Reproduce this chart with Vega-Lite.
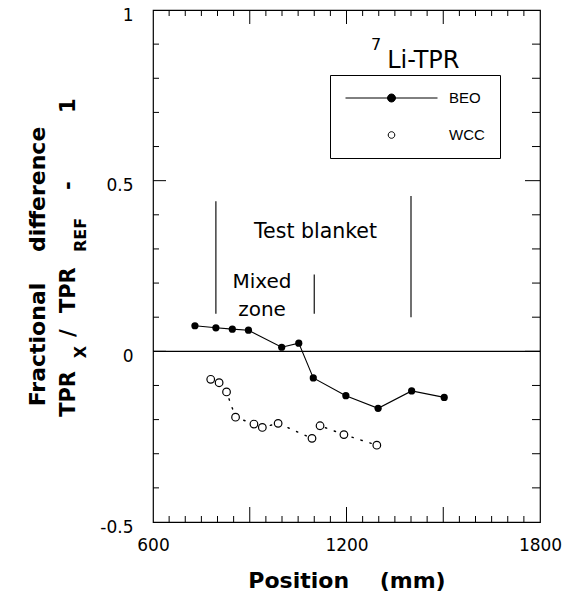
{
  "$schema": "https://vega.github.io/schema/vega-lite/v6.json",
  "width": 387,
  "height": 512,
  "autosize": {"type": "none"},
  "padding": {"left": 153, "top": 10, "right": 39, "bottom": 77},
  "background": "white",
  "config": {
    "view": {"stroke": "black", "strokeWidth": 1.2},
    "axis": {"grid": false, "domain": false},
    "text": {"font": "DejaVu Sans", "color": "black"}
  },
  "datasets": {
    "tpr": [
      {"series": "BEO", "pos": 730, "diff": 0.075},
      {"series": "BEO", "pos": 795, "diff": 0.069},
      {"series": "BEO", "pos": 846, "diff": 0.065},
      {"series": "BEO", "pos": 896, "diff": 0.062},
      {"series": "BEO", "pos": 999, "diff": 0.012},
      {"series": "BEO", "pos": 1052, "diff": 0.024},
      {"series": "BEO", "pos": 1097, "diff": -0.078},
      {"series": "BEO", "pos": 1198, "diff": -0.13},
      {"series": "BEO", "pos": 1298, "diff": -0.167},
      {"series": "BEO", "pos": 1402, "diff": -0.116},
      {"series": "BEO", "pos": 1503, "diff": -0.135},
      {"series": "WCC", "pos": 779, "diff": -0.082},
      {"series": "WCC", "pos": 805, "diff": -0.092},
      {"series": "WCC", "pos": 828, "diff": -0.119},
      {"series": "WCC", "pos": 856, "diff": -0.193},
      {"series": "WCC", "pos": 913, "diff": -0.213},
      {"series": "WCC", "pos": 939, "diff": -0.223},
      {"series": "WCC", "pos": 988, "diff": -0.211},
      {"series": "WCC", "pos": 1093, "diff": -0.255},
      {"series": "WCC", "pos": 1118, "diff": -0.218},
      {"series": "WCC", "pos": 1192, "diff": -0.244},
      {"series": "WCC", "pos": 1294, "diff": -0.275}
    ],
    "boundaries": [
      {"pos": 795, "lo": 0.11, "hi": 0.44},
      {"pos": 1100, "lo": 0.11, "hi": 0.225},
      {"pos": 1400, "lo": 0.1, "hi": 0.455}
    ],
    "xMinorTicks": [
      {"v": 650}, {"v": 700}, {"v": 750}, {"v": 800}, {"v": 850}, {"v": 950}, {"v": 1000},
      {"v": 1050}, {"v": 1100}, {"v": 1150}, {"v": 1250}, {"v": 1300}, {"v": 1350}, {"v": 1400},
      {"v": 1450}, {"v": 1550}, {"v": 1600}, {"v": 1650}, {"v": 1700}, {"v": 1750}
    ],
    "xMajorTicks": [{"v": 900}, {"v": 1200}, {"v": 1500}],
    "yMinorTicks": [
      {"v": -0.4}, {"v": -0.3}, {"v": -0.2}, {"v": -0.1}, {"v": 0.1}, {"v": 0.2},
      {"v": 0.3}, {"v": 0.4}, {"v": 0.6}, {"v": 0.7}, {"v": 0.8}, {"v": 0.9}
    ],
    "yMajorTicks": [{"v": 0}, {"v": 0.5}]
  },
  "resolve": {"axis": {"x": "independent", "y": "independent"}},
  "layer": [
    {
      "data": {"values": [{}]},
      "mark": {"type": "rule", "color": "black", "strokeWidth": 1.3},
      "encoding": {
        "y": {
          "datum": 0, "type": "quantitative",
          "scale": {"domain": [-0.5, 1], "nice": false, "zero": false},
          "axis": {
            "orient": "left", "values": [-0.5, 0, 0.5, 1], "labelExpr": "'' + datum.value",
            "ticks": false, "domain": false, "labelPadding": 20, "labelOffset": 5,
            "labelFont": "DejaVu Sans", "labelFontSize": 17, "labelColor": "black",
            "labelOverlap": false, "labelFlush": false,
            "title": "Fractional\u00a0\u00a0\u00a0\u00a0difference", "titleFont": "DejaVu Sans",
            "titleFontSize": 22, "titleFontWeight": "bold", "titleColor": "black", "titlePadding": 50
          }
        }
      }
    },
    {
      "data": {"name": "boundaries"},
      "mark": {"type": "rule", "color": "#111", "strokeWidth": 1.2},
      "encoding": {
        "x": {
          "field": "pos", "type": "quantitative",
          "scale": {"domain": [600, 1800], "nice": false, "zero": false},
          "axis": {
            "orient": "bottom", "values": [600, 1200, 1800], "format": "d",
            "ticks": false, "domain": false, "labelPadding": 15,
            "labelFont": "DejaVu Sans", "labelFontSize": 17, "labelColor": "black",
            "labelOverlap": false, "labelFlush": false,
            "title": "Position\u00a0\u00a0\u00a0\u00a0(mm)", "titleFont": "DejaVu Sans",
            "titleFontSize": 22, "titleFontWeight": "bold", "titleColor": "black", "titlePadding": 17
          }
        },
        "y": {"field": "lo", "type": "quantitative", "scale": {"domain": [-0.5, 1], "nice": false, "zero": false}, "axis": null},
        "y2": {"field": "hi"}
      }
    },
    {
      "data": {"name": "xMinorTicks"},
      "mark": {"type": "rule", "color": "black", "strokeWidth": 1, "y2Offset": -6},
      "encoding": {
        "x": {"field": "v", "type": "quantitative", "scale": {"domain": [600, 1800], "nice": false, "zero": false}, "axis": null},
        "y": {"datum": -0.5, "type": "quantitative", "scale": {"domain": [-0.5, 1], "nice": false, "zero": false}, "axis": null},
        "y2": {"datum": -0.5}
      }
    },
    {
      "data": {"name": "xMinorTicks"},
      "mark": {"type": "rule", "color": "black", "strokeWidth": 1, "y2Offset": 6},
      "encoding": {
        "x": {"field": "v", "type": "quantitative", "scale": {"domain": [600, 1800], "nice": false, "zero": false}, "axis": null},
        "y": {"datum": 1, "type": "quantitative", "scale": {"domain": [-0.5, 1], "nice": false, "zero": false}, "axis": null},
        "y2": {"datum": 1}
      }
    },
    {
      "data": {"name": "xMajorTicks"},
      "mark": {"type": "rule", "color": "black", "strokeWidth": 1, "y2Offset": -15},
      "encoding": {
        "x": {"field": "v", "type": "quantitative", "scale": {"domain": [600, 1800], "nice": false, "zero": false}, "axis": null},
        "y": {"datum": -0.5, "type": "quantitative", "scale": {"domain": [-0.5, 1], "nice": false, "zero": false}, "axis": null},
        "y2": {"datum": -0.5}
      }
    },
    {
      "data": {"name": "xMajorTicks"},
      "mark": {"type": "rule", "color": "black", "strokeWidth": 1, "y2Offset": 14},
      "encoding": {
        "x": {"field": "v", "type": "quantitative", "scale": {"domain": [600, 1800], "nice": false, "zero": false}, "axis": null},
        "y": {"datum": 1, "type": "quantitative", "scale": {"domain": [-0.5, 1], "nice": false, "zero": false}, "axis": null},
        "y2": {"datum": 1}
      }
    },
    {
      "data": {"name": "yMinorTicks"},
      "mark": {"type": "rule", "color": "black", "strokeWidth": 1, "x2Offset": 6},
      "encoding": {
        "y": {"field": "v", "type": "quantitative", "scale": {"domain": [-0.5, 1], "nice": false, "zero": false}, "axis": null},
        "x": {"datum": 600, "type": "quantitative", "scale": {"domain": [600, 1800], "nice": false, "zero": false}, "axis": null},
        "x2": {"datum": 600}
      }
    },
    {
      "data": {"name": "yMinorTicks"},
      "mark": {"type": "rule", "color": "black", "strokeWidth": 1, "x2Offset": -8},
      "encoding": {
        "y": {"field": "v", "type": "quantitative", "scale": {"domain": [-0.5, 1], "nice": false, "zero": false}, "axis": null},
        "x": {"datum": 1800, "type": "quantitative", "scale": {"domain": [600, 1800], "nice": false, "zero": false}, "axis": null},
        "x2": {"datum": 1800}
      }
    },
    {
      "data": {"name": "yMajorTicks"},
      "mark": {"type": "rule", "color": "black", "strokeWidth": 1, "x2Offset": 13},
      "encoding": {
        "y": {"field": "v", "type": "quantitative", "scale": {"domain": [-0.5, 1], "nice": false, "zero": false}, "axis": null},
        "x": {"datum": 600, "type": "quantitative", "scale": {"domain": [600, 1800], "nice": false, "zero": false}, "axis": null},
        "x2": {"datum": 600}
      }
    },
    {
      "data": {"name": "yMajorTicks"},
      "mark": {"type": "rule", "color": "black", "strokeWidth": 1, "x2Offset": -15},
      "encoding": {
        "y": {"field": "v", "type": "quantitative", "scale": {"domain": [-0.5, 1], "nice": false, "zero": false}, "axis": null},
        "x": {"datum": 1800, "type": "quantitative", "scale": {"domain": [600, 1800], "nice": false, "zero": false}, "axis": null},
        "x2": {"datum": 1800}
      }
    },
    {
      "data": {"values": [{}]},
      "mark": {"type": "text", "text": "Test blanket", "fontSize": 20.5, "align": "center", "baseline": "alphabetic"},
      "encoding": {
        "x": {"datum": 1104, "type": "quantitative", "scale": {"domain": [600, 1800], "nice": false, "zero": false}, "axis": null},
        "y": {"datum": 0.332, "type": "quantitative", "scale": {"domain": [-0.5, 1], "nice": false, "zero": false}, "axis": null}
      }
    },
    {
      "data": {"name": "tpr"},
      "transform": [{"filter": "datum.series === 'BEO'"}],
      "mark": {"type": "line", "color": "black", "strokeWidth": 1.1},
      "encoding": {
        "x": {"field": "pos", "type": "quantitative", "scale": {"domain": [600, 1800], "nice": false, "zero": false}, "axis": null},
        "y": {"field": "diff", "type": "quantitative", "scale": {"domain": [-0.5, 1], "nice": false, "zero": false}, "axis": null}
      }
    },
    {
      "data": {"name": "tpr"},
      "transform": [{"filter": "datum.series === 'BEO'"}],
      "mark": {"type": "circle", "color": "black", "size": 52, "opacity": 1},
      "encoding": {
        "x": {"field": "pos", "type": "quantitative", "scale": {"domain": [600, 1800], "nice": false, "zero": false}, "axis": null},
        "y": {"field": "diff", "type": "quantitative", "scale": {"domain": [-0.5, 1], "nice": false, "zero": false}, "axis": null}
      }
    },
    {
      "data": {"name": "tpr"},
      "transform": [{"filter": "datum.series === 'WCC'"}],
      "mark": {"type": "line", "color": "black", "strokeWidth": 1.4, "strokeDash": [1.4, 8], "strokeCap": "round"},
      "encoding": {
        "x": {"field": "pos", "type": "quantitative", "scale": {"domain": [600, 1800], "nice": false, "zero": false}, "axis": null},
        "y": {"field": "diff", "type": "quantitative", "scale": {"domain": [-0.5, 1], "nice": false, "zero": false}, "axis": null}
      }
    },
    {
      "data": {"name": "tpr"},
      "transform": [{"filter": "datum.series === 'WCC'"}],
      "mark": {"type": "circle", "fill": "white", "stroke": "black", "strokeWidth": 1.2, "size": 58, "opacity": 1},
      "encoding": {
        "x": {"field": "pos", "type": "quantitative", "scale": {"domain": [600, 1800], "nice": false, "zero": false}, "axis": null},
        "y": {"field": "diff", "type": "quantitative", "scale": {"domain": [-0.5, 1], "nice": false, "zero": false}, "axis": null}
      }
    },
    {
      "data": {"name": "tpr"},
      "transform": [{"filter": "false"}],
      "mark": {"type": "point", "filled": true, "strokeWidth": 1, "opacity": 1},
      "encoding": {
        "x": {"field": "pos", "type": "quantitative", "scale": {"domain": [600, 1800], "nice": false, "zero": false}, "axis": null},
        "y": {"field": "diff", "type": "quantitative", "scale": {"domain": [-0.5, 1], "nice": false, "zero": false}, "axis": null},
        "fill": {
          "field": "series", "type": "nominal",
          "scale": {"domain": ["BEO", "WCC"], "range": ["black", "white"]},
          "legend": {
            "orient": "none", "legendX": 177, "legendY": 65, "title": null,
            "strokeColor": "black", "fillColor": "white", "padding": 15, "cornerRadius": 0,
            "clipHeight": 16, "rowPadding": 21, "symbolSize": 8464,
            "symbolStrokeWidth": 1, "labelOffset": 11,
            "labelFont": "Liberation Sans", "labelFontSize": 15, "labelColor": "black"
          }
        },
        "stroke": {
          "field": "series", "type": "nominal",
          "scale": {"domain": ["BEO", "WCC"], "range": ["black", "black"]},
          "legend": {
            "orient": "none", "legendX": 177, "legendY": 65, "title": null,
            "strokeColor": "black", "fillColor": "white", "padding": 15, "cornerRadius": 0,
            "clipHeight": 16, "rowPadding": 21, "symbolSize": 8464,
            "symbolStrokeWidth": 1, "labelOffset": 11,
            "labelFont": "Liberation Sans", "labelFontSize": 15, "labelColor": "black"
          }
        },
        "shape": {
          "field": "series", "type": "nominal",
          "scale": {
            "domain": ["BEO", "WCC"],
            "range": [
              "M-1,0L1,0M-0.087,0A0.087,0.087,0,1,1,0.087,0A0.087,0.087,0,1,1,-0.087,0Z",
              "M-0.072,0A0.072,0.072,0,1,1,0.072,0A0.072,0.072,0,1,1,-0.072,0Z"
            ]
          },
          "legend": {
            "orient": "none", "legendX": 177, "legendY": 65, "title": null,
            "strokeColor": "black", "fillColor": "white", "padding": 15, "cornerRadius": 0,
            "clipHeight": 16, "rowPadding": 21, "symbolSize": 8464,
            "symbolStrokeWidth": 1, "labelOffset": 11,
            "labelFont": "Liberation Sans", "labelFontSize": 15, "labelColor": "black"
          }
        }
      }
    },
    {
      "data": {"values": [{}]},
      "mark": {"type": "text", "text": ["Mixed", "zone"], "fontSize": 20, "lineHeight": 28, "align": "center", "baseline": "alphabetic"},
      "encoding": {
        "x": {"datum": 938, "type": "quantitative", "scale": {"domain": [600, 1800], "nice": false, "zero": false}, "axis": null},
        "y": {"datum": 0.1855, "type": "quantitative", "scale": {"domain": [-0.5, 1], "nice": false, "zero": false}, "axis": null}
      }
    },
    {
      "data": {"values": [{}]},
      "mark": {"type": "text", "text": "7", "fontSize": 16, "align": "left", "baseline": "alphabetic"},
      "encoding": {
        "x": {"datum": 1276, "type": "quantitative", "scale": {"domain": [600, 1800], "nice": false, "zero": false}, "axis": null},
        "y": {"datum": 0.883, "type": "quantitative", "scale": {"domain": [-0.5, 1], "nice": false, "zero": false}, "axis": null}
      }
    },
    {
      "data": {"values": [{}]},
      "mark": {"type": "text", "text": "Li-TPR", "fontSize": 24, "align": "left", "baseline": "alphabetic"},
      "encoding": {
        "x": {"datum": 1326, "type": "quantitative", "scale": {"domain": [600, 1800], "nice": false, "zero": false}, "axis": null},
        "y": {"datum": 0.83, "type": "quantitative", "scale": {"domain": [-0.5, 1], "nice": false, "zero": false}, "axis": null}
      }
    },
    {
      "data": {"values": [{}]},
      "mark": {"type": "text", "text": "TPR", "fontSize": 21, "fontWeight": "bold", "angle": 270, "align": "left", "baseline": "alphabetic"},
      "encoding": {
        "x": {"datum": 358, "type": "quantitative", "scale": {"domain": [600, 1800], "nice": false, "zero": false}, "axis": null},
        "y": {"datum": -0.192, "type": "quantitative", "scale": {"domain": [-0.5, 1], "nice": false, "zero": false}, "axis": null}
      }
    },
    {
      "data": {"values": [{}]},
      "mark": {"type": "text", "text": "X", "fontSize": 16, "fontWeight": "bold", "angle": 270, "align": "left", "baseline": "alphabetic", "dy": 11},
      "encoding": {
        "x": {"datum": 358, "type": "quantitative", "scale": {"domain": [600, 1800], "nice": false, "zero": false}, "axis": null},
        "y": {"datum": -0.02, "type": "quantitative", "scale": {"domain": [-0.5, 1], "nice": false, "zero": false}, "axis": null}
      }
    },
    {
      "data": {"values": [{}]},
      "mark": {"type": "text", "text": "/", "fontSize": 21, "fontWeight": "bold", "angle": 270, "align": "left", "baseline": "alphabetic"},
      "encoding": {
        "x": {"datum": 358, "type": "quantitative", "scale": {"domain": [600, 1800], "nice": false, "zero": false}, "axis": null},
        "y": {"datum": 0.042, "type": "quantitative", "scale": {"domain": [-0.5, 1], "nice": false, "zero": false}, "axis": null}
      }
    },
    {
      "data": {"values": [{}]},
      "mark": {"type": "text", "text": "TPR", "fontSize": 21, "fontWeight": "bold", "angle": 270, "align": "left", "baseline": "alphabetic"},
      "encoding": {
        "x": {"datum": 358, "type": "quantitative", "scale": {"domain": [600, 1800], "nice": false, "zero": false}, "axis": null},
        "y": {"datum": 0.112, "type": "quantitative", "scale": {"domain": [-0.5, 1], "nice": false, "zero": false}, "axis": null}
      }
    },
    {
      "data": {"values": [{}]},
      "mark": {"type": "text", "text": "REF", "fontSize": 16, "fontWeight": "bold", "angle": 270, "align": "left", "baseline": "alphabetic", "dy": 11},
      "encoding": {
        "x": {"datum": 358, "type": "quantitative", "scale": {"domain": [600, 1800], "nice": false, "zero": false}, "axis": null},
        "y": {"datum": 0.291, "type": "quantitative", "scale": {"domain": [-0.5, 1], "nice": false, "zero": false}, "axis": null}
      }
    },
    {
      "data": {"values": [{}]},
      "mark": {"type": "text", "text": "-", "fontSize": 21, "fontWeight": "bold", "angle": 270, "align": "left", "baseline": "alphabetic"},
      "encoding": {
        "x": {"datum": 358, "type": "quantitative", "scale": {"domain": [600, 1800], "nice": false, "zero": false}, "axis": null},
        "y": {"datum": 0.473, "type": "quantitative", "scale": {"domain": [-0.5, 1], "nice": false, "zero": false}, "axis": null}
      }
    },
    {
      "data": {"values": [{}]},
      "mark": {"type": "text", "text": "1", "fontSize": 21, "fontWeight": "bold", "angle": 270, "align": "left", "baseline": "alphabetic"},
      "encoding": {
        "x": {"datum": 358, "type": "quantitative", "scale": {"domain": [600, 1800], "nice": false, "zero": false}, "axis": null},
        "y": {"datum": 0.698, "type": "quantitative", "scale": {"domain": [-0.5, 1], "nice": false, "zero": false}, "axis": null}
      }
    }
  ]
}
